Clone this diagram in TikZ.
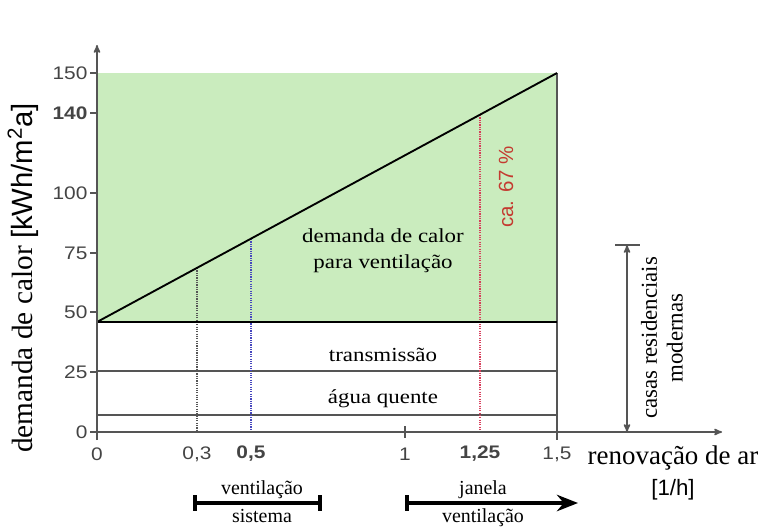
\documentclass[tikz,border=0pt]{standalone}
\usepackage{fontspec}
\setmainfont{Liberation Serif}
\newfontfamily\numfont[FakeStretch=1.15]{Liberation Sans}
\newfontfamily\widefont[FakeStretch=1.15]{Liberation Serif}
\newfontfamily\plainsans{Liberation Sans}
\usetikzlibrary{arrows,arrows.meta,calc,positioning}

\definecolor{areagreen}{RGB}{202,236,190}
\definecolor{pctred}{RGB}{196,58,48}
\definecolor{axisgray}{RGB}{85,85,85}
\definecolor{dotblue}{RGB}{70,70,190}
\definecolor{dotred}{RGB}{215,60,90}

\begin{document}
\begin{tikzpicture}[x=0.03cm, y=-0.03cm, >=stealth', semithick]

    \tikzstyle{tick} = [font=\numfont\fontsize{15.5}{17}\selectfont, text=axisgray!80!black, inner sep=1pt]
    \tikzstyle{inlabel} = [font=\widefont\fontsize{17}{22}\selectfont, align=center, inner sep=0pt]
    \tikzstyle{axislabel} = [font=\fontsize{23}{26}\selectfont, align=center, inner sep=0pt]
    \tikzstyle{rangebar} = [line width=3pt, line cap=butt]
    \tikzstyle{rangetext} = [font=\fontsize{17}{20}\selectfont, anchor=base, inner sep=0pt]
    \tikzstyle{axisline} = [draw=axisgray, line width=1.3pt]
    \tikzstyle{partline} = [draw=axisgray, line width=1.1pt]

    \useasboundingbox (0,0) rectangle (765,527);

    % key points of the chart
    \coordinate (origin) at (97,432);
    \coordinate (ytop)   at (97,45);
    \coordinate (xend)   at (722,432);
    \coordinate (base)   at (97,322);
    \coordinate (peak)   at (557,73);
    \coordinate (corner) at (557,322);

    % ventilation area
    \fill[areagreen] (97,73) rectangle (557,322);

    % part lines
    \draw[partline] (97,371) -- (557,371);
    \draw[partline] (97,415) -- (557,415);
    \draw[axisline] (557,73) -- (557,440);

    % reading lines
    \draw[axisgray, densely dotted, line width=1pt] (197,268) -- (197,432);
    \draw[dotblue, densely dotted, line width=1pt] (251,239) -- (251,432);
    \draw[dotred, densely dotted, line width=1pt] (480,115) -- (480,432);

    \draw[line width=2pt] (base) -- (corner);
    \draw[line width=1.6pt] (base) -- (peak);

    % axes
    \draw[axisline, ->] (97,440) -- (ytop);
    \draw[axisline, ->] (90,432) -- (xend);
    \draw[axisline] (405,426) -- (405,438);

    \foreach \val/\ypos in {150/73, 100/193, 75/253, 50/312, 25/372, 0/432} {
        \draw[axisline] (90,\ypos) -- (97,\ypos);
        \node (ytick\val) [tick, anchor=east] at (89,\ypos) {\val};
    }
    \draw[axisline] (90,113) -- (97,113);
    \node (ytick140) [tick, anchor=east] at (89,113) {\bfseries 140};

    \node (xtick0)   [tick] at (97,454)  {0};
    \node (xtick03)  [tick] at (197,454) {0,3};
    \node (xtick05)  [tick] at (251,454) {\bfseries 0,5};
    \node (xtick1)   [tick] at (405,454) {1};
    \node (xtick125) [tick] at (480,454) {\bfseries 1,25};
    \node (xtick15)  [tick] at (557,454) {1,5};

    % labels inside the chart
    \node (ventdemand) [inlabel] at (383,251) {demanda de calor\\para ventila\c{c}\~ao};
    \node (transm)     [inlabel] at (383,355) {transmiss\~ao};
    \node (water)      [inlabel] at (383,399) {\'agua quente};
    \node (share) [font=\plainsans\fontsize{17.5}{20}\selectfont, text=pctred, rotate=90, inner sep=0pt] at (506,187) {ca. 67 \%};

    % axis labels
    \node (ylabel) [axislabel, font=\fontsize{25}{28}\selectfont, rotate=90] at (23,278) {demanda de calor {\plainsans [kWh/m\textsuperscript{2}a]}};
    \node (xlabel) [axislabel] at (673,458) {renova\c{c}\~ao de ar};
    \node (xunit)  [font=\plainsans\fontsize{19}{22}\selectfont, inner sep=0pt] at (673,490) {[1/h]};

    % modern houses range
    \coordinate (housetop) at (627,245);
    \draw[axisline] (615,245) -- (640,245);
    \draw[axisline, <->] (housetop) -- (627,432);
    \node (houses) [font=\fontsize{19.5}{22}\selectfont, align=center, rotate=90, inner sep=0pt] at (662,338) {casas residenciais\\modernas};

    % ventilation ranges
    \coordinate (sysleft)  at (195,503);
    \coordinate (sysright) at (320,503);
    \coordinate (winleft)  at (407,503);
    \coordinate (winright) at (578,503);
    \draw[rangebar] (sysleft) -- (sysright);
    \draw[rangebar] ($(sysleft)+(0,-8)$) -- ($(sysleft)+(0,8)$);
    \draw[rangebar] ($(sysright)+(0,-8)$) -- ($(sysright)+(0,8)$);
    \draw[rangebar, -{Stealth[length=18pt, width=14pt]}] (winleft) -- (winright);
    \draw[rangebar] ($(winleft)+(0,-8)$) -- ($(winleft)+(0,8)$);

    \node (systop) [rangetext] at (262,494) {ventila\c{c}\~ao};
    \node (sysbot) [rangetext] at (262,522) {sistema};
    \node (wintop) [rangetext] at (483,494) {janela};
    \node (winbot) [rangetext] at (483,522) {ventila\c{c}\~ao};
\end{tikzpicture}
\end{document}
